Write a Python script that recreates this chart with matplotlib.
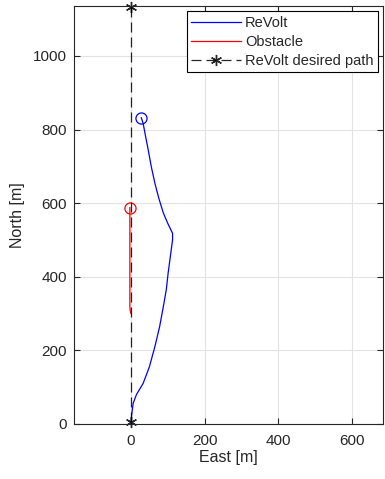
import numpy as np
import matplotlib.pyplot as plt

plt.rcParams['font.family'] = ['Liberation Sans', 'DejaVu Sans']

# ReVolt trajectory (east, north) in metres
revoltEast  = [0, 2, 6, 15, 33, 50, 65, 78, 88, 96, 101, 107, 113, 113, 100, 88, 76, 65, 55, 47, 40, 33, 28]
revoltNorth = [5, 25, 56, 80, 110, 155, 210, 265, 319, 365, 410, 455, 500, 518, 545, 573, 612, 654, 700, 744, 780, 817, 832]

# Obstacle trajectory
obstacleEast  = [0, -2, -3, -3, -3, -3]
obstacleNorth = [300, 308, 320, 400, 500, 588]

# desired path
desiredEast  = [0, 0]
desiredNorth = [5, 1132]

xTicks = [0, 200, 400, 600]
yTicks = [0, 200, 400, 600, 800, 1000]

txt = '#262626'
asterisk = (6, 2, 0)

fig = plt.figure(figsize=(3.85, 4.79), dpi=100)
ax = fig.add_axes([0.192, 0.115, 0.803, 0.872])

ax.grid(color='#e3e3e3', linestyle='-', linewidth=0.8)
ax.set_axisbelow(True)

ax.plot(revoltEast, revoltNorth, color='blue', linewidth=0.9, label='ReVolt')
ax.plot(revoltEast[-1], revoltNorth[-1], 'o', markerfacecolor='none', markeredgecolor='blue', markersize=8, markeredgewidth=0.9)

ax.plot(obstacleEast, obstacleNorth, color='red', linewidth=0.9, label='Obstacle')
ax.plot(obstacleEast[-1], obstacleNorth[-1], 'o', markerfacecolor='none', markeredgecolor='red', markersize=8, markeredgewidth=0.9)

ax.plot(desiredEast, desiredNorth, color='black', linestyle=(0, (8, 4)), linewidth=0.9,
        marker=asterisk, markersize=8, markeredgewidth=1.0, clip_on=False,
        alpha=0.85, label='ReVolt desired path')

ax.set_xlim([-155, 685])
ax.set_ylim([0, 1135])
ax.set_xticks(xTicks)
ax.set_yticks(yTicks)
ax.tick_params(direction='in', top=True, right=True, labelsize=11, colors=txt, length=4)
ax.tick_params(axis='x', pad=7)
ax.tick_params(axis='y', pad=5)
for s in ax.spines.values():
    s.set_color(txt)
    s.set_linewidth(0.8)

ax.set_xlabel('East [m]', fontsize=11.5, color=txt, labelpad=2)
ax.set_ylabel('North [m]', fontsize=11.5, color=txt, labelpad=6)

leg = ax.legend(loc='upper right', fontsize=10.5, frameon=True, fancybox=False, edgecolor='black',
                borderpad=0.3, labelspacing=0.35, handlelength=3.4, handletextpad=0.3,
                borderaxespad=0.35, numpoints=1, framealpha=1)
leg.get_frame().set_linewidth(0.8)
for t in leg.get_texts():
    t.set_color(txt)

plt.savefig('out.png', dpi=100)
plt.close()
